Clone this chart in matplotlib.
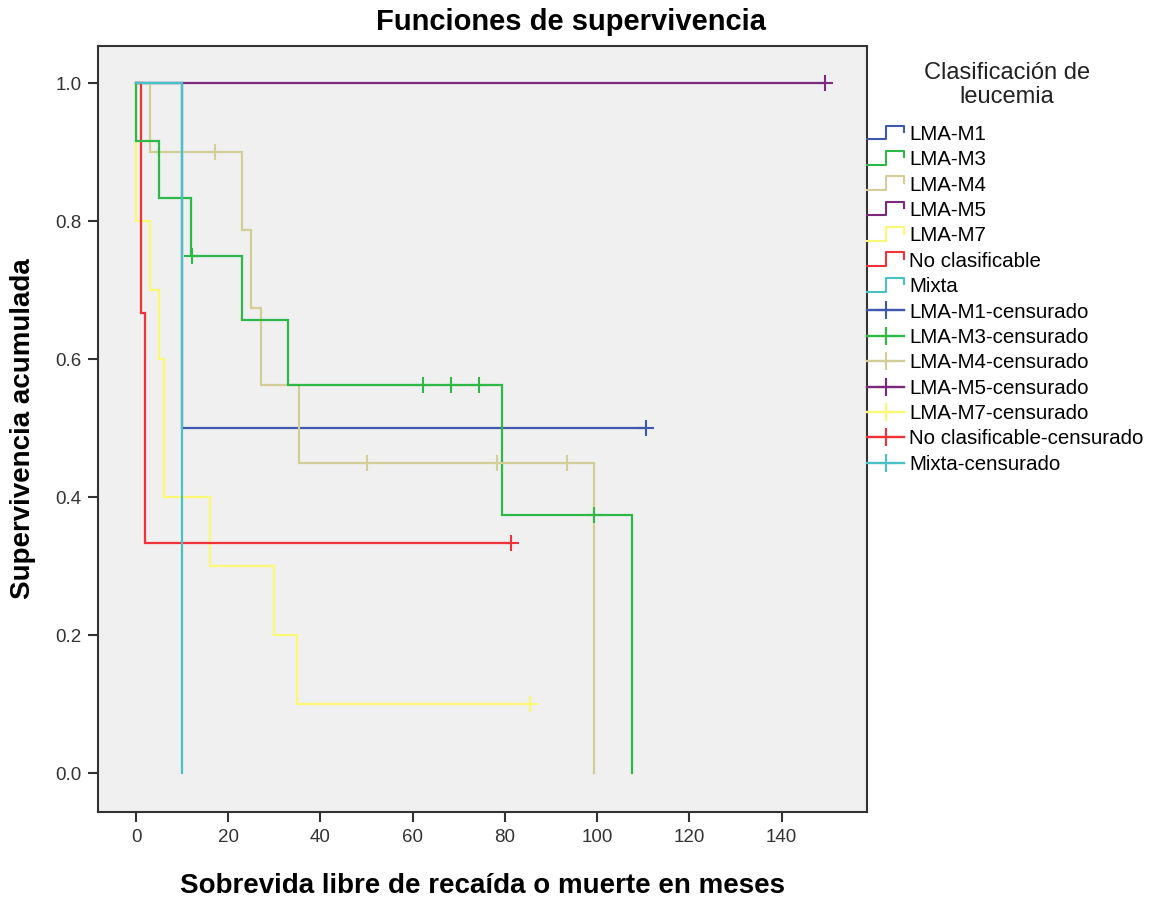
import matplotlib
matplotlib.use("Agg")
import matplotlib.pyplot as plt
from matplotlib.lines import Line2D
from matplotlib.legend_handler import HandlerBase

plt.rcParams['font.family'] = ['Liberation Sans', 'DejaVu Sans']

# ---- data ----
groups = ["LMA-M1", "LMA-M3", "LMA-M4", "LMA-M5", "LMA-M7", "No clasificable", "Mixta"]
colors = ["#3E58AC", "#2EB848", "#D3CE97", "#7C287D", "#FBF873", "#EF3338", "#48C2C5"]

# event times and survival after each step
m1_t = [10]
m1_s = [0.5]
m1_cens_t = [110.5]

m3_t = [0, 5, 12, 23, 33, 79.3, 107.5]
m3_s = [0.9167, 0.8333, 0.75, 0.6563, 0.5625, 0.375, 0.0]
m3_cens_t = [12.2, 62.3, 68.3, 74.3, 99.4]

m4_t = [3, 23, 25, 27, 35.3, 99.4]
m4_s = [0.9, 0.7875, 0.675, 0.5625, 0.45, 0.0]
m4_cens_t = [17.2, 50.1, 78.3, 93.4]

m5_t = []
m5_s = []
m5_cens_t = [149.5]

m7_t = [0, 3, 5, 6, 16, 30, 35]
m7_s = [0.8, 0.7, 0.6, 0.4, 0.3, 0.2, 0.1]
m7_cens_t = [85.5]

nc_t = [1, 2]
nc_s = [0.6667, 0.3333]
nc_cens_t = [81.3]

mx_t = [10]
mx_s = [0.0]
mx_cens_t = []

times = [m1_t, m3_t, m4_t, m5_t, m7_t, nc_t, mx_t]
survs = [m1_s, m3_s, m4_s, m5_s, m7_s, nc_s, mx_s]
cens = [m1_cens_t, m3_cens_t, m4_cens_t, m5_cens_t, m7_cens_t, nc_cens_t, mx_cens_t]

xticks = [0, 20, 40, 60, 80, 100, 120, 140]
yticks = [0.0, 0.2, 0.4, 0.6, 0.8, 1.0]


def surv_at(t_list, s_list, x):
    s = 1.0
    for t, v in zip(t_list, s_list):
        if x >= t:
            s = v
    return s


fig = plt.figure(figsize=(11.6, 9.01), dpi=100)
ax = fig.add_axes([98 / 1160, 1 - 812 / 901, (867 - 98) / 1160, (812 - 46) / 901])
ax.set_facecolor("#F0F0F0")

LW = 1.6
draw_order = [3, 0, 2, 4, 5, 1, 6]
for k, i in enumerate(draw_order):
    t, s, c = times[i], survs[i], cens[i]
    xs = [0]
    ys = [1.0]
    cur = 1.0
    for ti, si in zip(t, s):
        xs += [ti, ti]
        ys += [cur, si]
        cur = si
    if c and max(c) > (t[-1] if t else 0):
        xs.append(max(c))
        ys.append(cur)
    ax.plot(xs, ys, color=colors[i], lw=LW, solid_joinstyle='miter', zorder=2 + k * 0.01)
    if c:
        cy = [surv_at(t, s, x) for x in c]
        ax.plot(c, cy, linestyle='none', marker='+', markersize=12, mew=1.5,
                color=colors[i], zorder=3)

ax.set_xlim(-8.24, 158.5)
ax.set_ylim(-0.056, 1.054)
ax.set_xticks(xticks)
ax.set_xticklabels([str(v) for v in xticks])
ax.set_yticks(yticks)
ax.set_yticklabels([f"{v:.1f}" for v in yticks])
ax.tick_params(direction='out', length=7, width=1.5, color="#333333", labelsize=13.5,
               labelcolor="#333333", pad=5)
for sp in ax.spines.values():
    sp.set_linewidth(1.5)
    sp.set_color("#333333")

fig.text(571 / 1160, 1 - 22 / 901, "Funciones de supervivencia", ha='center', va='center',
         fontsize=21, fontweight='bold')
ax.set_xlabel("Sobrevida libre de recaída o muerte en meses", fontsize=20, fontweight='bold', labelpad=20)
ax.set_ylabel("Supervivencia acumulada", fontsize=20, fontweight='bold', labelpad=14)


# ---- legend with step-shaped handles ----
class StepHandle:
    def __init__(self, color):
        self.color = color


class HandlerStep(HandlerBase):
    def create_artists(self, legend, orig_handle, xdescent, ydescent, width, height, fontsize, trans):
        x0 = -xdescent
        y0 = -ydescent
        xs = [x0, x0 + width * 0.5, x0 + width * 0.5, x0 + width, x0 + width]
        ys = [y0 + height * 0.05, y0 + height * 0.05, y0 + height * 1.0, y0 + height * 1.0, y0 + height * 0.55]
        ln = Line2D(xs, ys, color=orig_handle.color, lw=1.5, transform=trans)
        return [ln]


handles = []
labels = []
for g, col in zip(groups, colors):
    handles.append(StepHandle(col))
    labels.append(g)
for g, col in zip(groups, colors):
    handles.append(Line2D([], [], color=col, lw=1.7, marker='+', markersize=13, mew=1.5))
    labels.append(g + "-censurado")

fig.text(1007 / 1160, 1 - 85 / 901, "Clasificación de\nleucemia", ha='center', va='center',
         fontsize=17, color="#222222", linespacing=1.1)

leg = fig.legend(handles, labels, handler_map={StepHandle: HandlerStep()},
                 loc='upper left', bbox_to_anchor=(867 / 1160, 1 - 125 / 901),
                 fontsize=14.8, frameon=False, handlelength=1.8, handleheight=0.7,
                 handletextpad=0.25, labelspacing=0.31,
                 borderaxespad=0, borderpad=0.0)

fig.savefig("out.png", dpi=100, facecolor="white")
